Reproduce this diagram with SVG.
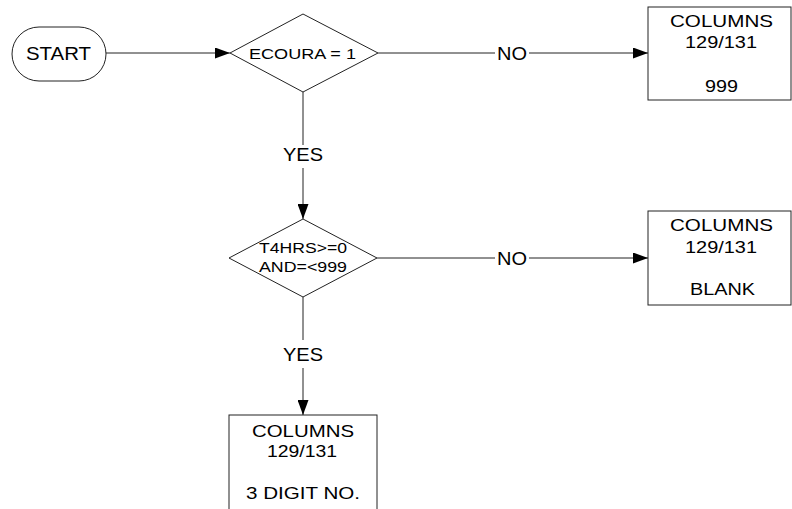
<svg xmlns="http://www.w3.org/2000/svg" width="792" height="509" viewBox="0 0 792 509">
<defs>
<style>
.s{fill:#fff;stroke:#222;stroke-width:1}
.c{fill:none;stroke:#222;stroke-width:1}
.t{font-family:"Liberation Sans",Arial,sans-serif;fill:#000;text-anchor:middle}
.f18{font-size:18px}
.f15{font-size:15px}
.f17{font-size:17px}
</style>
<marker id="arr" markerWidth="15" markerHeight="11" refX="15" refY="5.5" orient="auto" markerUnits="userSpaceOnUse">
<path d="M0,0 L15,5.5 L0,11 Z" fill="#000"/>
</marker>
</defs>
<rect width="792" height="509" fill="#fff"/>
<g id="connectors">
<path class="c" d="M106,53 H230" marker-end="url(#arr)"/>
<path class="c" d="M378,53 H495"/>
<path class="c" d="M529,53 H648" marker-end="url(#arr)"/>
<path class="c" d="M303,92 V145"/>
<path class="c" d="M303,168 V219" marker-end="url(#arr)"/>
<path class="c" d="M377,258 H495"/>
<path class="c" d="M529,258 H648" marker-end="url(#arr)"/>
<path class="c" d="M303,297 V340"/>
<path class="c" d="M303,368 V415" marker-end="url(#arr)"/>
<text class="t f18" x="512" y="59.5" textLength="30" lengthAdjust="spacingAndGlyphs">NO</text>
<text class="t f18" x="303" y="161" textLength="40" lengthAdjust="spacingAndGlyphs">YES</text>
<text class="t f18" x="512" y="264.5" textLength="30" lengthAdjust="spacingAndGlyphs">NO</text>
<text class="t f18" x="303" y="361" textLength="40" lengthAdjust="spacingAndGlyphs">YES</text>
</g>
<g id="start">
<rect class="s" x="12" y="27" width="94" height="54" rx="27" ry="27"/>
<text class="t f18" x="58.5" y="59.5" textLength="65" lengthAdjust="spacingAndGlyphs">START</text>
</g>
<g id="decision1">
<path class="s" d="M303,14 L378,53 L303,92 L230,53 Z"/>
<text class="t f15" x="302.5" y="59" textLength="107" lengthAdjust="spacingAndGlyphs">ECOURA = 1</text>
</g>
<g id="box999">
<rect class="s" x="648" y="7" width="143" height="93"/>
<text class="t f17" x="721.5" y="27" textLength="103" lengthAdjust="spacingAndGlyphs">COLUMNS</text>
<text class="t f17" x="721" y="48" textLength="72" lengthAdjust="spacingAndGlyphs">129/131</text>
<text class="t f17" x="721.5" y="92" textLength="33" lengthAdjust="spacingAndGlyphs">999</text>
</g>
<g id="decision2">
<path class="s" d="M303,219 L377,258 L303,297 L229,258 Z"/>
<text class="t f15" x="303" y="253" textLength="88" lengthAdjust="spacingAndGlyphs">T4HRS&gt;=0</text>
<text class="t f15" x="303" y="272" textLength="88" lengthAdjust="spacingAndGlyphs">AND=&lt;999</text>
</g>
<g id="boxBlank">
<rect class="s" x="648" y="211" width="143" height="94"/>
<text class="t f17" x="721.5" y="231" textLength="103" lengthAdjust="spacingAndGlyphs">COLUMNS</text>
<text class="t f17" x="721" y="253" textLength="72" lengthAdjust="spacingAndGlyphs">129/131</text>
<text class="t f17" x="722.5" y="295" textLength="65" lengthAdjust="spacingAndGlyphs">BLANK</text>
</g>
<g id="boxDigit">
<rect class="s" x="229" y="415" width="148" height="95"/>
<text class="t f17" x="303" y="437" textLength="102" lengthAdjust="spacingAndGlyphs">COLUMNS</text>
<text class="t f17" x="302" y="457" textLength="70" lengthAdjust="spacingAndGlyphs">129/131</text>
<text class="t f17" x="303" y="499" textLength="114" lengthAdjust="spacingAndGlyphs">3 DIGIT NO.</text>
</g>
</svg>
